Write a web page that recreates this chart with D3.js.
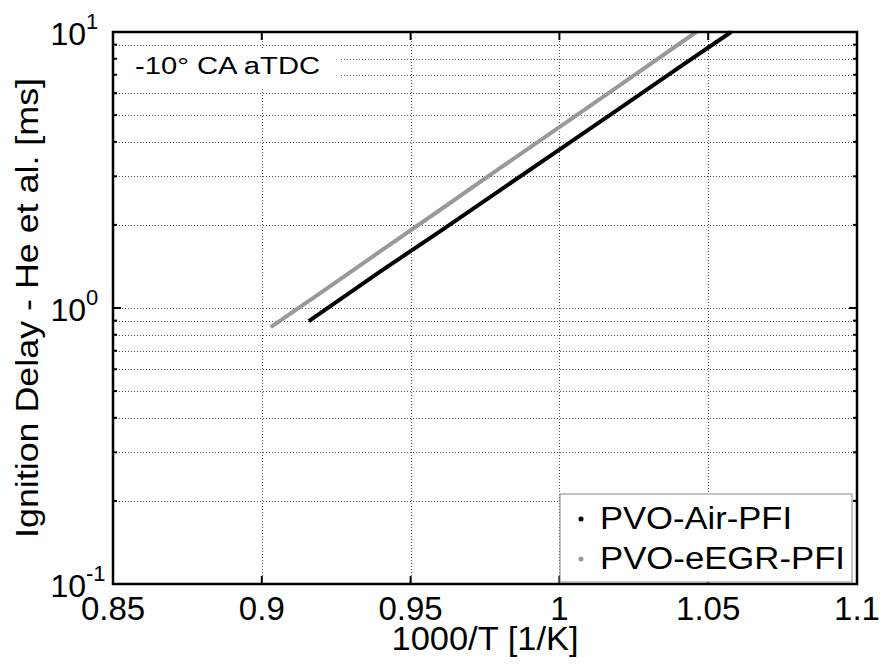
<!DOCTYPE html>
<html>
<head>
<meta charset="utf-8">
<script src="https://cdn.jsdelivr.net/npm/d3@7"></script>
<style>
  body { margin: 0; background: #fff; }
  svg text { font-family: "Liberation Sans", Arial, sans-serif; fill: #000; }
</style>
</head>
<body>
<svg class="chart" width="883" height="666"></svg>
<script>
// values
var airX = [0.9158, 0.94, 0.96, 0.98, 1.0, 1.02, 1.04, 1.0577];
var airY = [0.897, 1.36, 1.90, 2.67, 3.75, 5.27, 7.41, 10.0];
var egrX = [0.903, 0.92, 0.94, 0.96, 0.98, 1.0, 1.02, 1.046];
var egrY = [0.853, 1.14, 1.61, 2.27, 3.21, 4.52, 6.38, 10.0];
var xTicks = [0.85, 0.9, 0.95, 1.0, 1.05, 1.1];
var xTickLabels = ['0.85', '0.9', '0.95', '1', '1.05', '1.1'];
var yDecades = [0.1, 1, 10];
var yExponents = ['-1', '0', '1'];
var seriesNames = ['PVO-Air-PFI', 'PVO-eEGR-PFI'];
var seriesColors = ['#000000', '#999999'];

var plot = {left: 113, right: 857, top: 32, bottom: 584};

var xScale = d3.scaleLinear().domain([0.85, 1.1]).range([plot.left, plot.right]);
var yScale = d3.scaleLog().domain([0.1, 10]).range([plot.bottom, plot.top]);

var svg = d3.select('.chart');

// minor + major y grid values (1..9 per decade)
var yGrid = [];
for (let d = 0; d < 2; d++) {
  for (let m = 1; m < 10; m++) yGrid.push(yDecades[d] * m);
}
yGrid.push(10);

// grid
var grid = svg.append('g').attr('class', 'grid');
grid.selectAll('.hgrid')
  .data(yGrid.filter(v => v > 0.1 && v < 10))
  .join('line')
  .attr('x1', plot.left).attr('x2', plot.right)
  .attr('y1', d => Math.round(yScale(d)) + 0.5)
  .attr('y2', d => Math.round(yScale(d)) + 0.5)
  .style('stroke', '#555')
  .style('stroke-width', 1)
  .style('stroke-dasharray', '1,2');
grid.selectAll('.vgrid')
  .data(xTicks.slice(1, -1))
  .join('line')
  .attr('y1', plot.top).attr('y2', plot.bottom)
  .attr('x1', d => Math.round(xScale(d)) + 0.5)
  .attr('x2', d => Math.round(xScale(d)) + 0.5)
  .style('stroke', '#555')
  .style('stroke-width', 1)
  .style('stroke-dasharray', '1,2');

// white box behind the annotation
svg.append('rect')
  .attr('x', plot.left + 2).attr('y', 48)
  .attr('width', 224).attr('height', 40)
  .style('fill', '#fff');
svg.append('text')
  .attr('x', 135).attr('y', 74)
  .attr('font-size', 23)
  .attr('textLength', 185)
  .attr('lengthAdjust', 'spacingAndGlyphs')
  .text('-10° CA aTDC');

// series
var line = d3.line().x(d => xScale(d[0])).y(d => yScale(d[1]));
var series = [d3.zip(airX, airY), d3.zip(egrX, egrY)];
svg.append('g').attr('class', 'lines')
  .selectAll('path')
  .data([series[1], series[0]])
  .join('path')
  .attr('d', line)
  .style('fill', 'none')
  .style('stroke', (d, i) => i == 0 ? seriesColors[1] : seriesColors[0])
  .style('stroke-width', 4);

// ticks (inward, top/bottom and left/right)
var ticks = svg.append('g').attr('class', 'ticks')
  .style('stroke', '#000');
xTicks.forEach(v => {
  var x = xScale(v);
  ticks.append('line').attr('x1', x).attr('x2', x).attr('y1', plot.bottom).attr('y2', plot.bottom - 8).style('stroke-width', 2);
  ticks.append('line').attr('x1', x).attr('x2', x).attr('y1', plot.top).attr('y2', plot.top + 8).style('stroke-width', 2);
});
yGrid.forEach(v => {
  var y = yScale(v);
  var len = yDecades.indexOf(v) >= 0 ? 8 : 4;
  ticks.append('line').attr('x1', plot.left).attr('x2', plot.left + len).attr('y1', y).attr('y2', y).style('stroke-width', 2);
  ticks.append('line').attr('x1', plot.right).attr('x2', plot.right - len).attr('y1', y).attr('y2', y).style('stroke-width', 2);
});

// box
svg.append('rect')
  .attr('x', plot.left).attr('y', plot.top)
  .attr('width', plot.right - plot.left).attr('height', plot.bottom - plot.top)
  .style('fill', 'none').style('stroke', '#000').style('stroke-width', 2.5);

// x tick labels
svg.append('g').selectAll('text')
  .data(xTicks)
  .join('text')
  .attr('x', d => xScale(d))
  .attr('y', 620)
  .attr('text-anchor', 'middle')
  .attr('font-size', 33)
  .text((d, i) => xTickLabels[i]);

// y tick labels 10^n
var ylab = svg.append('g');
yDecades.forEach((d, i) => {
  ylab.append('text')
    .attr('x', 86)
    .attr('y', yScale(d) + 13)
    .attr('text-anchor', 'end')
    .attr('font-size', 32)
    .text('10');
  ylab.append('text')
    .attr('x', 86)
    .attr('y', yScale(d) + 13 - 16)
    .attr('font-size', 22)
    .text(yExponents[i]);
});

// axis labels
svg.append('text')
  .attr('x', (plot.left + plot.right) / 2)
  .attr('y', 650)
  .attr('text-anchor', 'middle')
  .attr('font-size', 33)
  .attr('textLength', 187)
  .attr('lengthAdjust', 'spacingAndGlyphs')
  .text('1000/T [1/K]');
svg.append('text')
  .attr('transform', 'translate(38,' + ((plot.top + plot.bottom) / 2) + ') rotate(-90)')
  .attr('text-anchor', 'middle')
  .attr('font-size', 32)
  .attr('textLength', 460)
  .attr('lengthAdjust', 'spacingAndGlyphs')
  .text('Ignition Delay - He et al. [ms]');

// legend
var legend = svg.append('g').attr('class', 'legend');
legend.append('rect')
  .attr('x', 560).attr('y', 494)
  .attr('width', 292).attr('height', 88)
  .style('fill', '#fff').style('stroke', '#888').style('stroke-width', 1);
var legendWidths = [192, 245];
legend.selectAll('g')
  .data(seriesNames)
  .join('g')
  .attr('transform', (d, i) => 'translate(581,' + (519 + 40 * i) + ')')
  .call(g => g.append('circle')
    .attr('r', 2.5)
    .style('fill', (d, i) => seriesColors[i]))
  .call(g => g.append('text')
    .attr('x', 19)
    .attr('y', 10)
    .attr('font-size', 31)
    .attr('textLength', (d, i) => legendWidths[i])
    .attr('lengthAdjust', 'spacingAndGlyphs')
    .text(d => d));
</script>
</body>
</html>
